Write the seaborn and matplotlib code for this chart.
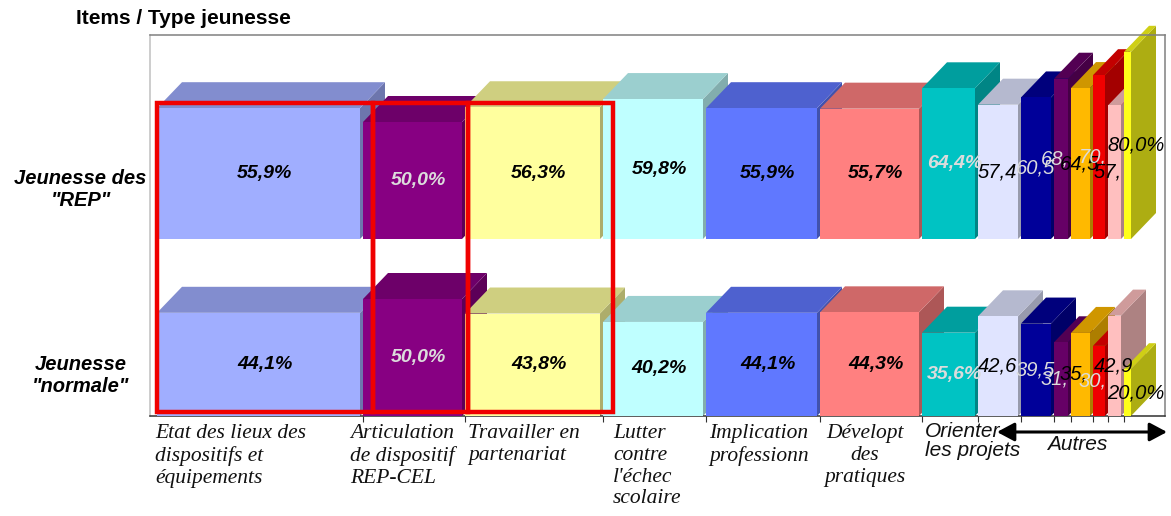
import matplotlib
matplotlib.use("Agg")
import matplotlib.pyplot as plt
from matplotlib.patches import Polygon, Rectangle, FancyArrowPatch
from matplotlib.colors import to_rgb
import numpy as np
import pandas as pd
import seaborn as sns

# ---- data ----
items = ["Etat", "Articulation", "Travailler", "Lutter", "Implication", "Developt",
         "Orienter", "Autre1", "Autre2", "Autre3", "Autre4", "Autre5", "Autre6", "Autre7"]
widths = [206, 102, 138, 103, 114, 102, 56, 43, 33, 17, 22, 15, 16, 10]
rep_values = [55.9, 50.0, 56.3, 59.8, 55.9, 55.7, 64.4, 57.4, 60.5, 68.5, 64.5, 70.0, 57.1, 80.0]
normal_values = [44.1, 50.0, 43.8, 40.2, 44.1, 44.3, 35.6, 42.6, 39.5, 31.5, 35.5, 30.0, 42.9, 20.0]
rep_labels = ["55,9%", "50,0%", "56,3%", "59,8%", "55,9%", "55,7%", "64,4%",
              "57,4", "60,5", "68,", "64,5", "70,", "57,", "80,0%"]
normal_labels = ["44,1%", "50,0%", "43,8%", "40,2%", "44,1%", "44,3%", "35,6%",
                 "42,6", "39,5", "31,", "35,", "30,", "42,9", "20,0%"]
colors = ["#A0AEFF", "#870082", "#FFFF9E", "#BFFFFF", "#6078FF", "#FF8080", "#00C3C3",
          "#E0E4FF", "#000099", "#660066", "#FFB900", "#F00000", "#FFBFBF", "#FFFF1A"]
light_text = [1, 6, 8, 9, 11]
row_labels = ['Jeunesse\n"normale"', 'Jeunesse des\n"REP"']
category_labels = ["Etat des lieux des\ndispositifs et\néquipements",
                   "Articulation\nde dispositif\nREP-CEL",
                   "Travailler en\npartenariat",
                   "Lutter\ncontre\nl'échec\nscolaire",
                   "Implication\nprofessionn",
                   "Dévelopt\ndes\npratiques"]

sns.set_theme(style="white")
W, H = 1171, 516
fig = plt.figure(figsize=(W / 100, H / 100), dpi=100, facecolor="white")
L, R, T, B = 150, 1165, 35, 416
ax = fig.add_axes([L / W, (H - B) / H, (R - L) / W, (B - T) / H])

X0 = 157          # pixel of first bar
PXY = 2.34        # pixels per percent
BASE_TOP = 177 / PXY
DX, DY = 25, 26 / PXY
SLIVER = 3
edges = X0 + np.concatenate([[0], np.cumsum(widths)]).astype(float)
centers = (edges[:-1] + edges[1:]) / 2


def shade(c, f):
    return tuple(v * f for v in to_rgb(c))


def draw_row(values, base):
    # depth faces, painted left to right: each top lies over the left neighbour's side
    for i in range(len(values)):
        x0, x1 = edges[i], edges[i + 1] - SLIVER
        top = base + values[i]
        ax.add_patch(Polygon([(x1, base), (x1, top), (x1 + DX, top + DY), (x1 + DX, base + DY)],
                             fc=shade(colors[i], .68), ec="none", zorder=2, clip_on=False))
        ax.add_patch(Polygon([(x0, top), (x1, top), (x1 + DX, top + DY), (x0 + DX, top + DY)],
                             fc=shade(colors[i], .81), ec="none", zorder=2, clip_on=False))
    # front faces
    before = len(ax.patches)
    df = pd.DataFrame({"center": centers, "value": values, "item": items})
    sns.histplot(data=df, x="center", weights="value", hue="item", hue_order=items,
                 palette=colors, bins=list(edges), multiple="layer", alpha=1, linewidth=0,
                 legend=False, ax=ax)
    for p in list(ax.patches[before:]):
        if p.get_height() <= 0:
            p.remove()
        else:
            p.set_y(base)
            p.set_width(p.get_width() - SLIVER)
            p.set_alpha(1)
            p.set_zorder(3)
            p.set_clip_on(False)


def draw_labels(values, labels, base):
    for i, (v, s) in enumerate(zip(values, labels)):
        col = "#DCDCDC" if i in light_text else "black"
        y = base + v / 2
        if i <= 6:
            ax.text(centers[i] + 5, y, s, ha="center", va="center", color=col, zorder=6,
                    family="Liberation Sans", style="italic", weight="bold", fontsize=14)
        else:
            ax.text(centers[i] - 22, y, s, ha="left", va="center", color=col, zorder=6,
                    family="Liberation Sans", style="italic", fontsize=14.5)


draw_row(rep_values, BASE_TOP)
draw_row(normal_values, 0)
draw_labels(rep_values, rep_labels, BASE_TOP)
draw_labels(normal_values, normal_labels, 0)

ax.set_xlim(L, R)
ax.set_ylim(0, (B - T) / PXY)
ax.set_xlabel("")
ax.set_ylabel("")

# frame
ax.spines["left"].set_color("#C0C0C0")
ax.spines["top"].set_color("#808080")
ax.spines["right"].set_color("#808080")
ax.spines["bottom"].set_color("#303030")
for s in ax.spines.values():
    s.set_visible(True)
    s.set_linewidth(1.1)

# ticks
ax.set_xticks(edges[1:-1])
ax.set_xticklabels([])
ax.tick_params(axis="x", length=4, width=0.8, color="#303030", bottom=True)
ax.set_yticks([(B - 372) / PXY, (B - 186) / PXY], row_labels)
for t in ax.get_yticklabels():
    t.set(family="Liberation Sans", style="italic", weight="bold", fontsize=14.5,
          ha="center", linespacing=1.17, color="black")
ax.tick_params(axis="y", length=0, pad=50)

# red highlight boxes
for x0, x1 in [(157, 373), (373, 468), (468, 613)]:
    ax.add_patch(Rectangle((x0, (B - 412) / PXY), x1 - x0, (412 - 103) / PXY, fill=False,
                           ec="#F00000", lw=3.2, zorder=5, clip_on=False))


def fx(px):
    return px / W


def fy(py):
    return 1 - py / H


# title
fig.text(fx(76), fy(19), "Items / Type jeunesse", family="Liberation Sans", weight="bold",
         fontsize=15, ha="left", va="center", color="black")

# category labels
label_x = [155, 350, 468, 613, 709]
for x, s in zip(label_x, category_labels[:5]):
    fig.text(fx(x), fy(424), s, family="Liberation Serif", style="italic", fontsize=15.5,
             color="#111111", ha="left", va="top", linespacing=1.2)
fig.text(fx(865), fy(424), category_labels[5], family="Liberation Serif", style="italic",
         fontsize=15.5, color="#111111", ha="center", va="top", linespacing=1.2)
fig.text(fx(925), fy(422), "Orienter\nles projets", family="Liberation Sans", style="italic",
         fontsize=15, color="#111111", ha="left", va="top", linespacing=1.0)
fig.text(fx(1077), fy(444), "Autres", family="Liberation Sans", style="italic",
         fontsize=15, color="#111111", ha="center", va="center")
fig.add_artist(FancyArrowPatch(
    (fx(997), fy(432)), (fx(1167), fy(432)), transform=fig.transFigure,
    arrowstyle="<|-|>,head_length=0.75,head_width=0.4", mutation_scale=14,
    color="black", lw=2.2, shrinkA=0, shrinkB=0))

fig.savefig("out.png", dpi=100)
